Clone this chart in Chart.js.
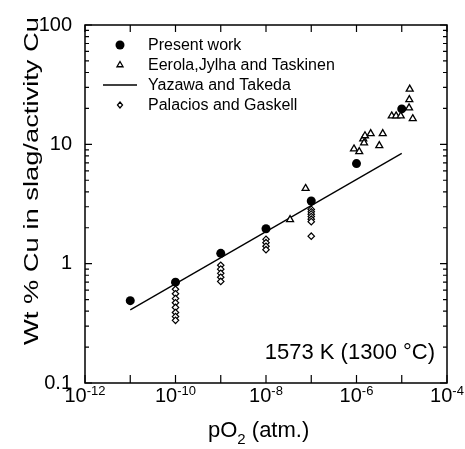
<!DOCTYPE html>
<html><head><meta charset="utf-8">
<script src="https://cdn.jsdelivr.net/npm/chart.js@4.4.1/dist/chart.umd.min.js"></script>
<style>html,body{margin:0;padding:0;background:#fff;}canvas{display:block;}</style>
</head><body>
<canvas id="c" width="465" height="449"></canvas>
<script>
// ---- data ----
const seriesNames = ['Present work', 'Eerola,Jylha and Taskinen', 'Yazawa and Takeda', 'Palacios and Gaskell'];

const presentX = [1e-11, 1e-10, 1e-9, 1e-8, 1e-7, 1e-6, 1e-5];
const presentY = [0.49, 0.70, 1.22, 1.96, 3.35, 6.9, 19.8];

const eerolaX = [3.4e-8, 7.5e-8, 8.8e-7, 1.15e-6, 1.41e-6, 1.47e-6, 1.54e-6, 2.06e-6, 3.19e-6, 3.8e-6, 6.0e-6, 7.5e-6, 9.5e-6, 1.45e-5, 1.47e-5, 1.5e-5, 1.75e-5];
const eerolaY = [2.34, 4.27, 9.15, 8.7, 11.1, 10.3, 11.8, 12.3, 9.76, 12.3, 17.3, 17.3, 17.3, 20.2, 23.7, 29.0, 16.4];

const yazawaX = [1e-11, 1e-5];
const yazawaY = [0.41, 8.4];

const palaciosX = [1e-10, 1e-10, 1e-10, 1e-10, 1e-10, 1e-10, 1e-10, 1e-10,
                   1e-9, 1e-9, 1e-9, 1e-9, 1e-9,
                   1e-8, 1e-8, 1e-8, 1e-8,
                   1e-7, 1e-7, 1e-7, 1e-7, 1e-7, 1e-7, 1e-7];
const palaciosY = [0.61, 0.56, 0.51, 0.47, 0.43, 0.39, 0.36, 0.335,
                   0.97, 0.90, 0.83, 0.77, 0.71,
                   1.60, 1.50, 1.40, 1.31,
                   2.85, 2.72, 2.60, 2.48, 2.36, 2.25, 1.70];

const yTickValues = [0.1, 1, 10, 100];
const yTickLabels = ['0.1', '1', '10', '100'];
const xTickExps = [-12, -11, -10, -9, -8, -7, -6, -5, -4];
const xLabelExps = [-12, -10, -8, -6, -4];
const xTitleParts = ['pO', '2', ' (atm.)'];
const yTitle = 'Wt % Cu in slag/activity Cu';
const annotationText = '1573 K (1300 \u00B0C)';

// ---- helpers ----
const FONT = '"Liberation Sans", Arial, Helvetica, sans-serif';
function pts(xs, ys) { return xs.map((x, i) => ({ x: x, y: ys[i] })); }

function drawMarker(ctx, kind, x, y) {
  ctx.save();
  ctx.strokeStyle = '#000';
  if (kind === 'circle') {
    ctx.fillStyle = '#000';
    ctx.beginPath(); ctx.arc(x, y, 4.5, 0, Math.PI * 2); ctx.fill();
  } else if (kind === 'triangle') {
    const r = 3.5; ctx.fillStyle = '#fff'; ctx.lineWidth = 1.3;
    ctx.beginPath();
    for (let i = 0; i < 3; i++) {
      const a = i * 2 * Math.PI / 3;
      const px = x + Math.sin(a) * r, py = y - Math.cos(a) * r;
      if (i === 0) ctx.moveTo(px, py); else ctx.lineTo(px, py);
    }
    ctx.closePath(); ctx.fill(); ctx.stroke();
  } else if (kind === 'line') {
    ctx.lineWidth = 1.3;
    ctx.beginPath(); ctx.moveTo(x - 17, y); ctx.lineTo(x + 17, y); ctx.stroke();
  } else if (kind === 'diamond') {
    const r = 3; ctx.fillStyle = '#fff'; ctx.lineWidth = 1.2;
    ctx.beginPath(); ctx.moveTo(x, y - r); ctx.lineTo(x + r * 0.85, y); ctx.lineTo(x, y + r); ctx.lineTo(x - r * 0.85, y); ctx.closePath();
    ctx.fill(); ctx.stroke();
  }
  ctx.restore();
}

const decoPlugin = {
  id: 'deco',
  afterDraw(chart) {
    const ctx = chart.ctx, a = chart.chartArea, xs = chart.scales.x, ys = chart.scales.y;
    ctx.save();
    // frame
    ctx.strokeStyle = '#000'; ctx.lineWidth = 1.5;
    ctx.strokeRect(a.left, a.top, a.right - a.left, a.bottom - a.top);
    // tick marks (inside)
    ctx.lineWidth = 1.2;
    ctx.beginPath();
    xTickExps.forEach(e => {
      const px = xs.getPixelForValue(Math.pow(10, e));
      ctx.moveTo(px, a.bottom); ctx.lineTo(px, a.bottom - 8);
      ctx.moveTo(px, a.top); ctx.lineTo(px, a.top + 7);
    });
    for (let k = -1; k <= 2; k++) {
      for (let m = 1; m <= 9; m++) {
        if (k === 2 && m > 1) break;
        const v = m * Math.pow(10, k);
        const py = ys.getPixelForValue(v);
        const len = (m === 1) ? 7 : 4;
        ctx.moveTo(a.left, py); ctx.lineTo(a.left + len, py);
        ctx.moveTo(a.right, py); ctx.lineTo(a.right - len, py);
      }
    }
    ctx.stroke();

    ctx.fillStyle = '#000';
    ctx.textAlign = 'left'; ctx.textBaseline = 'alphabetic';
    // x tick labels with superscript exponents
    xLabelExps.forEach(e => {
      const px = xs.getPixelForValue(Math.pow(10, e));
      ctx.font = '20px ' + FONT; const wb = ctx.measureText('10').width;
      const es = String(e);
      ctx.font = '13px ' + FONT; const we = ctx.measureText(es).width;
      const x0 = px - (wb + we) / 2;
      ctx.font = '20px ' + FONT; ctx.fillText('10', x0, 402);
      ctx.font = '13px ' + FONT; ctx.fillText(es, x0 + wb, 395);
    });

    // x title with subscript
    let tx = 208;
    ctx.font = '22px ' + FONT; ctx.fillText(xTitleParts[0], tx, 437); tx += ctx.measureText(xTitleParts[0]).width;
    ctx.font = '15px ' + FONT; ctx.fillText(xTitleParts[1], tx, 444); tx += ctx.measureText(xTitleParts[1]).width;
    ctx.font = '22px ' + FONT; ctx.fillText(xTitleParts[2], tx, 437);

    // y title (rotated)
    ctx.save();
    ctx.font = '21px ' + FONT;
    const w = ctx.measureText(yTitle).width;
    const s = 328 / w;
    ctx.translate(38, 345); ctx.rotate(-Math.PI / 2); ctx.scale(s, 1);
    ctx.fillText(yTitle, 0, 0);
    ctx.restore();

    // annotation
    ctx.font = '22px ' + FONT; ctx.textAlign = 'right';
    ctx.fillText(annotationText, 435, 359);

    // legend
    const kinds = ['circle', 'triangle', 'line', 'diamond'];
    const rowsY = [45, 65, 85, 105];
    ctx.textAlign = 'left'; ctx.textBaseline = 'middle'; ctx.font = '16px ' + FONT;
    seriesNames.forEach((n, i) => {
      drawMarker(ctx, kinds[i], 120, rowsY[i]);
      ctx.fillStyle = '#000';
      ctx.fillText(n, 148, rowsY[i] + 1);
    });
    ctx.restore();
  }
};

new Chart(document.getElementById('c'), {
  type: 'scatter',
  data: {
    datasets: [
      { label: seriesNames[0], data: pts(presentX, presentY), pointStyle: 'circle', pointRadius: 4.5,
        backgroundColor: '#000', borderColor: '#000', borderWidth: 0 },
      { label: seriesNames[1], data: pts(eerolaX, eerolaY), pointStyle: 'triangle', pointRadius: 4,
        backgroundColor: '#fff', borderColor: '#000', borderWidth: 1.3 },
      { label: seriesNames[2], data: pts(yazawaX, yazawaY), showLine: true, pointRadius: 0,
        borderColor: '#000', borderWidth: 1.3, backgroundColor: '#000' },
      { label: seriesNames[3], data: pts(palaciosX, palaciosY), pointStyle: 'rectRot', pointRadius: 3.2,
        backgroundColor: '#fff', borderColor: '#000', borderWidth: 1.2 }
    ]
  },
  options: {
    responsive: false,
    devicePixelRatio: 1,
    animation: false,
    layout: { padding: { top: 22, right: 18, left: 0, bottom: 0 } },
    plugins: { legend: { display: false }, tooltip: { enabled: false } },
    scales: {
      x: {
        type: 'logarithmic', min: 1e-12, max: 1e-4,
        grid: { display: false, drawTicks: false }, border: { display: false },
        ticks: { display: false },
        afterFit(s) { s.height = 66; }
      },
      y: {
        type: 'logarithmic', min: 0.1, max: 100,
        grid: { display: false, drawTicks: false }, border: { display: false },
        afterBuildTicks(s) { s.ticks = yTickValues.map(v => ({ value: v })); },
        ticks: {
          color: '#000', padding: 13, font: { size: 20, family: FONT },
          callback: (v, i) => yTickLabels[i]
        },
        afterFit(s) { s.width = 85; }
      }
    }
  },
  plugins: [decoPlugin]
});
</script>
</body></html>
